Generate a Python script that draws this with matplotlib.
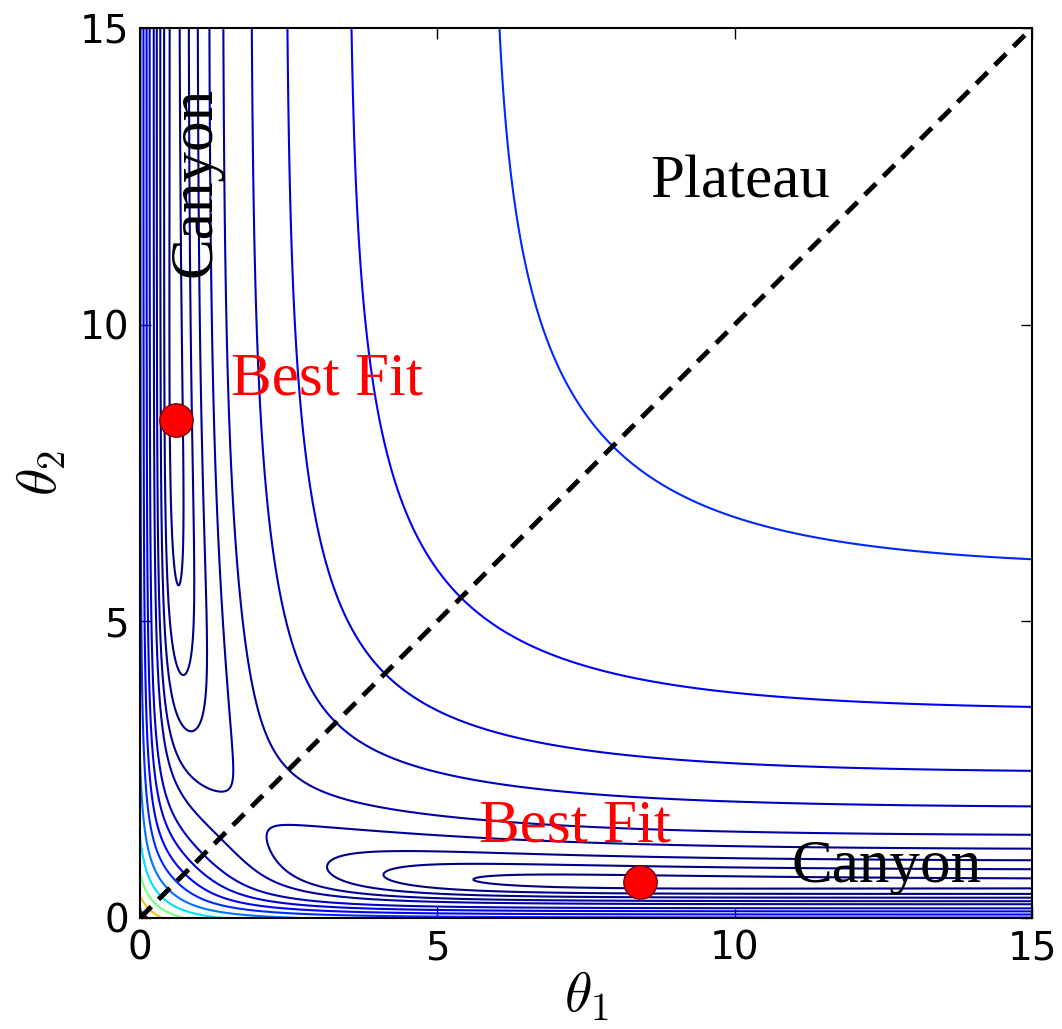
import numpy as np
import matplotlib
matplotlib.use('Agg')
import matplotlib.pyplot as plt

# sum of two exponentials, y(t) = exp(-th1 t) + exp(-th2 t), fitted to three data points
t_obs = np.array([1/3, 1.0, 3.0])
best_fit = [0.6, 8.4]
y_obs = np.exp(-best_fit[0] * t_obs) + np.exp(-best_fit[1] * t_obs)

levels = [0.0075, 0.031, 0.064, 0.113, 0.175, 0.298, 0.433, 0.62, 0.873,
          1.25, 1.78, 2.55, 3.64, 5.2]

def cost(a, b):
    a = np.asarray(a, float)[..., None]
    b = np.asarray(b, float)[..., None]
    return np.sum((np.exp(-a * t_obs) + np.exp(-b * t_obs) - y_obs) ** 2, axis=-1)

th = np.linspace(0, 15, 750)
T1, T2 = np.meshgrid(th, th)
C = cost(T1, T2)

plt.rcParams['mathtext.fontset'] = 'cm'
fig = plt.figure(figsize=(10.62, 10.29), dpi=100)
ax = fig.add_axes([0.1318, 0.1079, 0.840, 0.865])

ax.contour(T1, T2, C, levels=levels, cmap='jet', linewidths=1.5)
ax.plot([0, 15], [0, 15], 'k--', lw=3.5, dashes=(3.3, 2.1))
ax.plot([best_fit[0], best_fit[1]], [best_fit[1], best_fit[0]], 'o', color='red',
        mec='#7a0000', mew=1, ms=24, clip_on=False)

serif = 'Liberation Serif'
ax.text(10.09, 12.39, 'Plateau', fontsize=44, family=serif, ha='center', va='center')
ax.text(0.93, 12.4, 'Canyon', fontsize=44, family=serif, ha='center', va='center', rotation=90)
ax.text(12.56, 0.86, 'Canyon', fontsize=44, family=serif, ha='center', va='center')
ax.text(3.14, 9.07, 'Best Fit', fontsize=44, family=serif, color='red', ha='center', va='center')
ax.text(7.31, 1.53, 'Best Fit', fontsize=44, family=serif, color='red', ha='center', va='center')

ax.set_xlim(0, 15)
ax.set_ylim(0, 15)
ax.set_xticks([0, 5, 10, 15])
ax.set_yticks([0, 5, 10, 15])
ax.tick_params(direction='in', length=8, width=1, labelsize=28, top=True, right=True, pad=8)
for s in ax.spines.values():
    s.set_linewidth(1.5)
ax.set_xlabel(r'$\theta_1$', fontsize=40, labelpad=2)
ax.set_ylabel(r'$\theta_2$', fontsize=40, labelpad=8)

fig.savefig('out.png', dpi=100)
